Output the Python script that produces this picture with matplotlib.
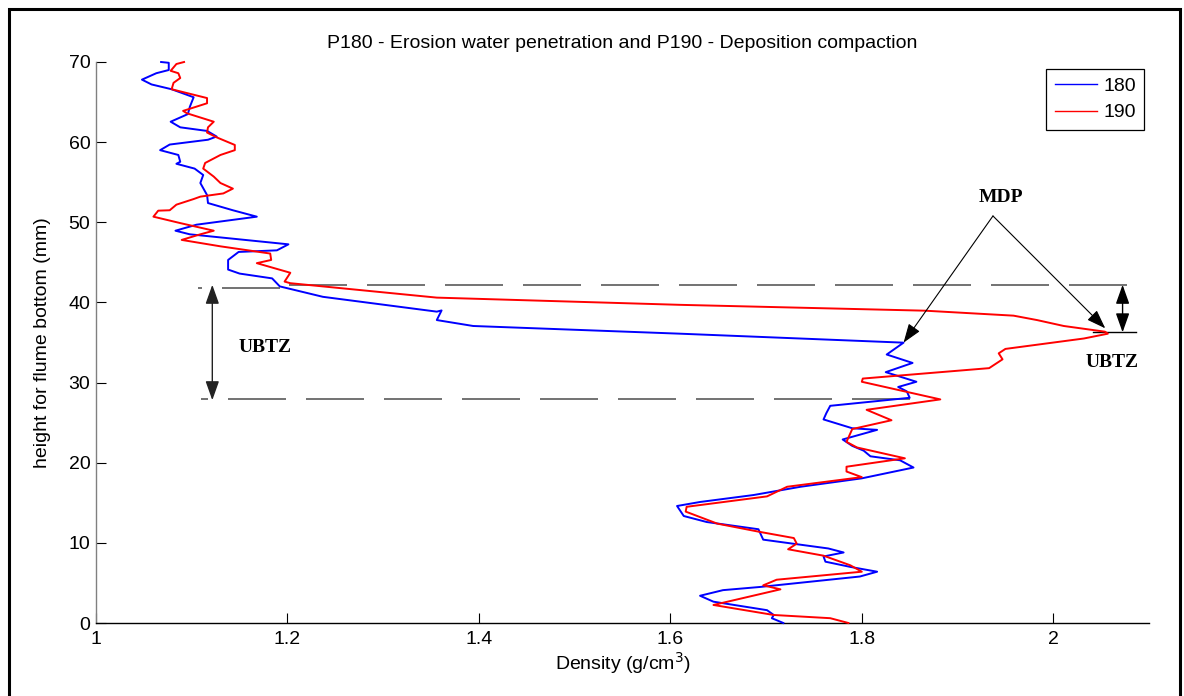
import matplotlib
matplotlib.use("Agg")
import matplotlib.pyplot as plt
from matplotlib.lines import Line2D
from matplotlib.patches import Rectangle

# ---------------- data ----------------
h180 = [70.0, 69.9, 69.0, 68.6, 67.8, 67.2, 66.6, 65.6, 64.4, 63.5, 62.55, 61.85, 61.4, 60.7,
        60.3, 59.7, 59.0, 58.4, 57.55, 57.3, 56.7, 55.9, 54.9, 53.4, 52.4, 51.5, 50.7, 49.7,
        48.95, 48.5, 47.25, 46.5, 46.3, 45.3, 44.1, 43.6, 43.0, 42.0, 40.7, 38.85, 39.0, 37.8,
        37.06, 36.1, 34.98, 33.5, 32.45, 31.3, 30.1, 29.45, 28.9, 28.1, 27.1, 26.2, 25.4,
        24.3, 24.1, 23.0, 22.9, 22.1, 21.5, 20.8, 20.3, 19.4, 18.05, 17.0, 15.97, 15.1, 14.6,
        13.35, 12.6, 11.7, 10.4, 9.3, 8.8, 8.3, 7.65, 7.0, 6.4, 5.8, 4.5, 4.1, 3.4, 2.66,
        1.6, 1.0, 0.6, 0.0]
d180 = [1.068, 1.076, 1.076, 1.063, 1.048, 1.058, 1.079, 1.102, 1.098, 1.096, 1.078, 1.088,
        1.116, 1.126, 1.117, 1.077, 1.067, 1.086, 1.088, 1.084, 1.103, 1.112, 1.109, 1.116,
        1.117, 1.143, 1.168, 1.105, 1.083, 1.098, 1.201, 1.189, 1.149, 1.138, 1.138, 1.150,
        1.184, 1.192, 1.237, 1.356, 1.361, 1.356, 1.394, 1.610, 1.8436, 1.826, 1.853, 1.825,
        1.857, 1.838, 1.847, 1.850, 1.767, 1.763, 1.760, 1.790, 1.816, 1.783, 1.780, 1.790,
        1.802, 1.809, 1.840, 1.854, 1.800, 1.736, 1.687, 1.631, 1.607, 1.614, 1.638, 1.692,
        1.697, 1.765, 1.781, 1.760, 1.762, 1.788, 1.816, 1.798, 1.694, 1.655, 1.631, 1.645,
        1.701, 1.708, 1.706, 1.718]

h190 = [70.0, 69.75, 68.9, 68.6, 68.0, 67.4, 66.6, 65.5, 64.85, 63.9, 63.6, 62.55, 61.85,
        61.2, 60.6, 59.65, 59.0, 58.4, 57.4, 56.7, 55.7, 54.9, 54.2, 53.6, 53.2, 52.9, 52.2,
        51.5, 51.45, 50.7, 49.9, 48.95, 48.5, 47.8, 47.0, 46.1, 45.3, 44.9, 43.7, 42.6, 42.4,
        40.6, 39.7, 38.97, 38.35, 37.8, 37.06, 36.35, 36.1, 35.5, 34.2, 33.65, 32.9, 31.8,
        30.5, 30.1, 27.9, 26.6, 25.3, 24.2, 22.6, 21.9, 20.55, 19.5, 18.9, 18.2, 17.0, 15.8,
        14.5, 13.9, 12.4, 11.4, 10.6, 9.9, 9.2, 8.4, 7.2, 6.4, 5.4, 4.7, 4.2, 2.25, 1.0, 0.6,
        0.0]
d190 = [1.092, 1.084, 1.078, 1.086, 1.088, 1.081, 1.079, 1.116, 1.116, 1.091, 1.095, 1.123,
        1.117, 1.116, 1.126, 1.145, 1.145, 1.130, 1.114, 1.112, 1.123, 1.130, 1.143, 1.133,
        1.109, 1.102, 1.084, 1.077, 1.065, 1.060, 1.088, 1.123, 1.109, 1.0895, 1.130, 1.182,
        1.183, 1.168, 1.203, 1.197, 1.203, 1.356, 1.610, 1.866, 1.9585, 1.983, 2.011, 2.054,
        2.057, 2.032, 1.950, 1.943, 1.947, 1.933, 1.801, 1.800, 1.882, 1.805, 1.831, 1.790,
        1.784, 1.795, 1.845, 1.784, 1.784, 1.800, 1.722, 1.701, 1.617, 1.616, 1.649, 1.692,
        1.729, 1.732, 1.723, 1.760, 1.788, 1.800, 1.711, 1.697, 1.715, 1.645, 1.708, 1.767,
        1.786]

series_labels = ["180", "190"]
x_ticks = [1, 1.2, 1.4, 1.6, 1.8, 2]
x_ticklabels = ["1", "1.2", "1.4", "1.6", "1.8", "2"]
y_ticks = [0, 10, 20, 30, 40, 50, 60, 70]

# ---------------- figure ----------------
plt.rcParams['font.family'] = ['Liberation Sans', 'DejaVu Sans']
W, H = 1184, 696
fig = plt.figure(figsize=(W / 100, H / 100), dpi=100)
ax = fig.add_axes([96 / W, 1 - 623 / H, 1053 / W, 561 / H])

ax.plot(d180, h180, color=(0, 0, 1), lw=1.4, clip_on=False, zorder=3)
ax.plot(d190, h190, color=(1, 0, 0), lw=1.4, clip_on=False, zorder=3)

ax.set_xlim(1, 2.1)
ax.set_ylim(0, 70)
ax.set_xticks(x_ticks)
ax.set_xticklabels(x_ticklabels)
ax.set_yticks(y_ticks)
ax.tick_params(direction='in', length=7.2, width=0.8, labelsize=14, color='black')
ax.tick_params(axis='x', pad=6)
ax.tick_params(axis='y', pad=4)
for s in ('top', 'right'):
    ax.spines[s].set_visible(False)
ax.spines['left'].set_color('#808080')
ax.spines['left'].set_linewidth(1.0)
ax.spines['bottom'].set_color('black')
ax.spines['bottom'].set_linewidth(1.0)

ax.set_title("P180 - Erosion water penetration and P190 - Deposition compaction",
             fontsize=14, pad=10)
ax.set_xlabel("Density (g/cm$^3$)", fontsize=14, labelpad=1)
ax.set_ylabel("height for flume bottom (mm)", fontsize=14, labelpad=13)

# dashed guide lines (drawn from the right end so the dash pattern matches)
dash_col = '#5a5a5a'
ax.plot([2.077, 1.200], [42.2, 42.2], color=dash_col, lw=1.2, dashes=(34.8, 12.0), zorder=2)
ax.plot([1.192, 1.107], [41.8, 41.8], color=dash_col, lw=1.2, dashes=(34.8, 12.0), zorder=2)
ax.plot([1.850, 1.110], [27.95, 27.95], color=dash_col, lw=1.2, dashes=(34.8, 12.0), zorder=2)

# annotations
serif = ['Liberation Serif', 'DejaVu Serif']
ax.text(1.9451, 52.5, "MDP", fontsize=14, fontweight='bold', family=serif,
        ha='center', va='baseline')
ax.text(1.1766, 33.79, "UBTZ", fontsize=14, fontweight='bold', family=serif,
        ha='center', va='baseline')
ax.text(2.061, 31.9, "UBTZ", fontsize=14, fontweight='bold', family=serif,
        ha='center', va='baseline')

head = '-|>,head_length=0.9,head_width=0.32'
ax.annotate("", xy=(1.8436, 34.98), xytext=(1.937, 50.79),
            arrowprops=dict(arrowstyle=head, color='black', lw=0.8, mutation_scale=13,
                            shrinkA=0, shrinkB=0))
ax.annotate("", xy=(2.0543, 36.77), xytext=(1.937, 50.79),
            arrowprops=dict(arrowstyle=head, color='black', lw=0.8, mutation_scale=13,
                            shrinkA=0, shrinkB=0))
dhead = '<|-|>,head_length=0.9,head_width=0.32'
ax.annotate("", xy=(2.0724, 36.27), xytext=(2.0724, 42.2),
            arrowprops=dict(arrowstyle=dhead, color='black', lw=1.0, mutation_scale=13,
                            shrinkA=0, shrinkB=0))
ax.plot([2.0418, 2.0867], [36.27, 36.27], color='black', lw=1.0, clip_on=False)
ax.annotate("", xy=(1.1215, 27.8), xytext=(1.1215, 42.2),
            arrowprops=dict(arrowstyle=dhead, color='#222222', lw=1.0, mutation_scale=13,
                            shrinkA=0, shrinkB=0))

# legend
handles = [Line2D([], [], color=(0, 0, 1), lw=1.0), Line2D([], [], color=(1, 0, 0), lw=1.0)]
leg = ax.legend(handles, series_labels, loc='upper right',
                bbox_to_anchor=((1144 - 96) / 1053, (623 - 69.3) / 561),
                borderaxespad=0, fontsize=14, fancybox=False, framealpha=1,
                edgecolor='black', handlelength=2.2, handletextpad=0.3,
                labelspacing=0.45, borderpad=0.42)
leg.get_frame().set_linewidth(0.9)

# outer frame
fig.add_artist(Rectangle((8.5 / W, -0.05), (1180 - 8.5) / W, 1.05 - 9.5 / H,
                         transform=fig.transFigure, fill=False, lw=2.2,
                         edgecolor='black'))

fig.savefig("out.png", dpi=100)
